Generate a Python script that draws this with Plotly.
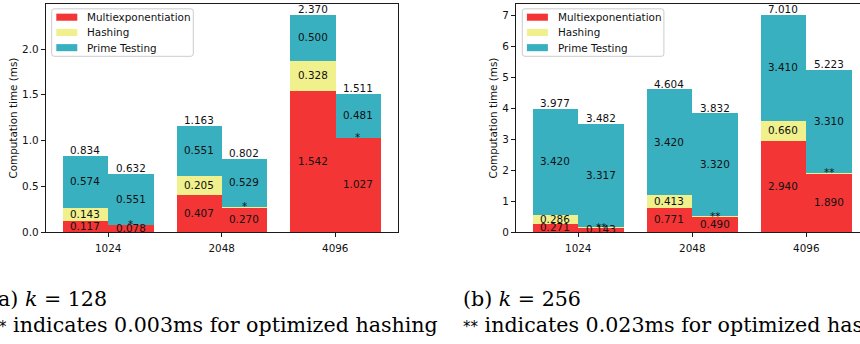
import plotly.graph_objects as go

# ---------------- data ----------------
categories = ["1024", "2048", "4096"]
series_names = ["Multiexponentiation", "Hashing", "Prime Testing"]

# k = 128
k128_multi_std = [0.117, 0.407, 1.542]
k128_hash_std = [0.143, 0.205, 0.328]
k128_prime_std = [0.574, 0.551, 0.500]
k128_multi_opt = [0.078, 0.270, 1.027]
k128_hash_opt = [0.003, 0.003, 0.003]
k128_prime_opt = [0.551, 0.529, 0.481]
k128_total_std = ["0.834", "1.163", "2.370"]
k128_total_opt = ["0.632", "0.802", "1.511"]
k128_opt_mark = "*"

# k = 256
k256_multi_std = [0.271, 0.771, 2.940]
k256_hash_std = [0.286, 0.413, 0.660]
k256_prime_std = [3.420, 3.420, 3.410]
k256_multi_opt = [0.143, 0.490, 1.890]
k256_hash_opt = [0.023, 0.023, 0.023]
k256_prime_opt = [3.317, 3.320, 3.310]
k256_total_std = ["3.977", "4.604", "7.010"]
k256_total_opt = ["3.482", "3.832", "5.223"]
k256_opt_mark = "**"

y_title = "Computation time (ms)"
STAR = '<span style="font-family:DejaVu Sans;font-size:15px">*</span>'
caption_a = ["(a) <i>k</i> = 128", STAR + " indicates 0.003ms for optimized hashing"]
caption_b = ["(b) <i>k</i> = 256", STAR + STAR + " indicates 0.023ms for optimized hashing"]

# ---------------- style ----------------
W, H = 860, 344
COLORS = ["#f43535", "#f0f08c", "#38b0c0"]
TXT = "#111111"
AXC = "#1a1a1a"
FONT = "DejaVu Sans"
FS = 10.4
SERIF = "DejaVu Serif"
CAP_FS = 20.6


def px(x):
    return x / W


def py(y):
    return 1 - y / H


def rounded_rect(x0p, x1p, ytop, ybot, r=2.5):
    x0, x1, y0, y1 = px(x0p), px(x1p), py(ybot), py(ytop)
    rx, ry = r / W, r / H
    return (f"M {x0 + rx},{y1} L {x1 - rx},{y1} Q {x1},{y1} {x1},{y1 - ry} "
            f"L {x1},{y0 + ry} Q {x1},{y0} {x1 - rx},{y0} L {x0 + rx},{y0} "
            f"Q {x0},{y0} {x0},{y0 + ry} L {x0},{y1 - ry} Q {x0},{y1} {x0 + rx},{y1} Z")


fig = go.Figure()

panels = [
    dict(xa="x", ya="y", multi=(k128_multi_std, k128_multi_opt),
         hash=(k128_hash_std, k128_hash_opt), prime=(k128_prime_std, k128_prime_opt),
         totals=(k128_total_std, k128_total_opt), mark=k128_opt_mark),
    dict(xa="x2", ya="y2", multi=(k256_multi_std, k256_multi_opt),
         hash=(k256_hash_std, k256_hash_opt), prime=(k256_prime_std, k256_prime_opt),
         totals=(k256_total_std, k256_total_opt), mark=k256_opt_mark),
]

annotations = []
BW = 0.4
idx = list(range(len(categories)))
xpos = [i - BW / 2 for i in idx] + [i + BW / 2 for i in idx]

for p in panels:
    layers = [p["multi"][0] + p["multi"][1],
              p["hash"][0] + p["hash"][1],
              p["prime"][0] + p["prime"][1]]
    for name, vals, col in zip(series_names, layers, COLORS):
        fig.add_trace(go.Bar(x=xpos, y=vals, width=[BW] * len(xpos), name=name,
                             marker=dict(color=col, line=dict(width=0)),
                             xaxis=p["xa"], yaxis=p["ya"], showlegend=False,
                             hoverinfo="skip"))
    totals = p["totals"][0] + p["totals"][1]
    n = len(categories)
    for j, x in enumerate(xpos):
        base = 0.0
        for li, vals in enumerate(layers):
            v = vals[j]
            if li == 1 and j >= n:
                txt = p["mark"]
            else:
                txt = f"{v:.3f}"
            annotations.append(dict(x=x, y=base + v / 2, xref=p["xa"], yref=p["ya"],
                                    text=txt, showarrow=False, yshift=1,
                                    font=dict(family=FONT, size=FS, color=TXT)))
            base += v
        annotations.append(dict(x=x, y=base, xref=p["xa"], yref=p["ya"],
                                text=totals[j], showarrow=False, yshift=6,
                                font=dict(family=FONT, size=FS, color=TXT)))

# axis y titles
for xc in (13.3, 493.3):
    annotations.append(dict(x=px(xc), y=py(120.4), xref="paper", yref="paper",
                            text=y_title, textangle=-90, showarrow=False,
                            xanchor="center", yanchor="middle",
                            font=dict(family=FONT, size=FS, color=TXT)))

# manual legends
shapes = []
for bx0 in (51.7, 522.3):
    bx1 = bx0 + 141.6
    shapes.append(dict(type="path", xref="paper", yref="paper",
                       path=rounded_rect(bx0, bx1, 9, 57.3),
                       line=dict(color="#cccccc", width=1),
                       fillcolor="rgba(255,255,255,0.8)", layer="above"))
    for r, (name, col) in enumerate(zip(series_names, COLORS)):
        cy = 17.5 + r * 15.5
        shapes.append(dict(type="rect", xref="paper", yref="paper",
                           x0=px(bx0 + 4.6), x1=px(bx0 + 25.6),
                           y0=py(cy + 3.6), y1=py(cy - 3.6),
                           line=dict(width=0), fillcolor=col, layer="above"))
        annotations.append(dict(x=px(bx0 + 33.3), y=py(cy), xref="paper", yref="paper",
                                text=name, showarrow=False, xanchor="left", yanchor="middle",
                                font=dict(family=FONT, size=FS, color=TXT)))

# captions (left panel's caption starts slightly off the page, as in the reference)
for (x1, x2, lines) in ((-12.0, -3.5, caption_a), (461.0, 461.0, caption_b)):
    for li, t in enumerate(lines):
        annotations.append(dict(x=px(x1 if li == 0 else x2),
                                y=py(304.8 + 26 * li), xref="paper", yref="paper",
                                text=t, showarrow=False, xanchor="left", yanchor="middle",
                                font=dict(family=SERIF, size=CAP_FS, color="#000000")))

axis_common = dict(showline=True, linecolor=AXC, linewidth=1, ticks="outside",
                   ticklen=4, tickwidth=1, tickcolor=AXC, showgrid=False, zeroline=False,
                   tickfont=dict(family=FONT, size=FS, color=TXT))

y_dom = [py(236.5), py(4.3)]
fig.update_layout(
    width=W, height=H, autosize=False,
    margin=dict(l=0, r=0, t=0, b=0, pad=0),
    paper_bgcolor="white", plot_bgcolor="white",
    barmode="stack", bargap=0,
    showlegend=False,
    xaxis=dict(domain=[px(45.7), px(397.7)], range=[-0.55, 2.55],
               tickmode="array", tickvals=idx, ticktext=categories,
               mirror=True, anchor="y", ticklabelstandoff=2, **axis_common),
    yaxis=dict(domain=y_dom, range=[0, 2.4885], tickmode="array",
               tickvals=[0, 0.5, 1.0, 1.5, 2.0], tickformat=".1f",
               mirror=True, anchor="x", **axis_common),
    xaxis2=dict(domain=[px(516), 1.0], range=[-0.546, 2.471],
                tickmode="array", tickvals=idx, ticktext=categories,
                mirror=True, anchor="y2", ticklabelstandoff=2, **axis_common),
    yaxis2=dict(domain=y_dom, range=[0, 7.3605], tickmode="array",
                tickvals=list(range(8)), mirror=False, anchor="x2", **axis_common),
    annotations=annotations,
    shapes=shapes,
)

fig.write_html("out.html", config={"displayModeBar": False})
